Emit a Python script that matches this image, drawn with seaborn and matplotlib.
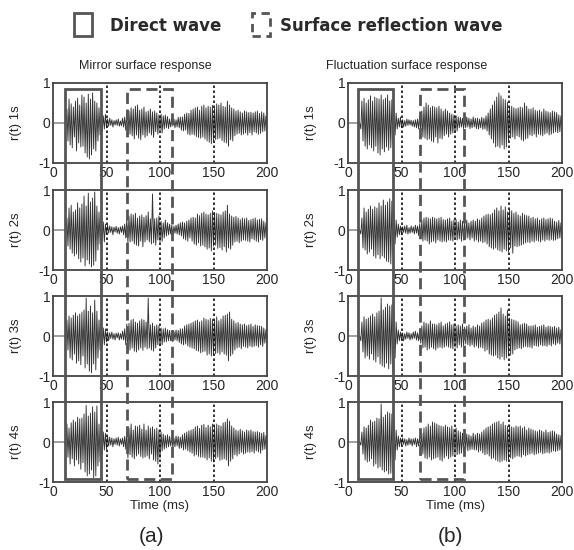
import numpy as np
import pandas as pd
import seaborn as sns
import matplotlib.pyplot as plt
from matplotlib.patches import Rectangle

# --- Data: received signal r(t), values in hundredths, one sample per ms (0..200 ms) ---
time_ms = list(range(0, 201))

mirror_1s = [
    0, 0, 0, 0, 0, 0, 0, 0, 0, 0,
    0, 0, -8, 35, -45, 60, -55, 48, -62, 40,
    -35, 55, -70, 62, -50, 45, -60, 70, -58, 65,
    -75, 50, -85, 72, -90, 60, -80, 75, -65, 55,
    -70, 50, -45, 38, -30, 25, -20, 18, -15, 22,
    -12, 10, -8, 12, -6, 8, -10, 6, -5, 8,
    -6, 10, -8, 5, -7, 12, -10, 15, -18, 25,
    -35, 30, -28, 38, -32, 35, -40, 42, -30, 45,
    -38, 32, -42, 35, -30, 40, -36, 28, -32, 30,
    -25, 35, -30, 28, -36, 30, -22, 25, -28, 20,
    -18, 22, -25, 18, -15, 20, -12, 16, -14, 10,
    -10, 12, -8, 10, -12, 8, -10, 14, -12, 15,
    -18, 15, -20, 22, -18, 25, -28, 24, -30, 32,
    -28, 35, -30, 38, -34, 40, -36, 32, -38, 42,
    -35, 45, -40, 38, -45, 42, -48, 40, -52, 44,
    -46, 38, -42, 48, -40, 45, -38, 50, -44, 42,
    -48, 40, -50, 55, -58, 45, -42, 38, -45, 35,
    -32, 30, -28, 32, -26, 28, -30, 25, -28, 30,
    -25, 28, -30, 26, -24, 27, -30, 25, -22, 28,
    -25, 30, -28, 24, -26, 28, -22, 25, -20, 18,
    -15,
]

mirror_2s = [
    0, 0, 0, 0, 0, 0, 0, 0, 0, 0,
    0, 0, -5, 30, -40, 55, -48, 62, -58, 45,
    -65, 50, -60, 68, -72, 55, -80, 65, -70, 85,
    -90, 60, -75, 92, -85, 70, -92, 80, -88, 95,
    -78, 60, -50, 45, -35, 30, -25, 20, -30, 15,
    -10, 12, -8, 10, -6, 8, -12, 7, -5, 9,
    -8, 6, -10, 8, -6, 10, -12, 15, -20, 28,
    -32, 35, -30, 40, -28, 38, -35, 42, -38, 30,
    -40, 35, -28, 38, -42, 32, -30, 36, -25, 45,
    -30, 28, -35, 90, -32, 28, -38, 30, -25, 35,
    -30, 22, -28, 18, -20, 25, -15, 18, -12, 15,
    -10, 12, -15, 10, -8, 12, -10, 15, -12, 18,
    -15, 20, -22, 18, -25, 22, -28, 25, -20, 30,
    -28, 32, -35, 30, -38, 40, -32, 36, -40, 42,
    -38, 45, -42, 40, -48, 38, -45, 42, -52, 48,
    -40, 44, -38, 42, -46, 40, -44, 38, -50, 45,
    -42, 48, -55, 62, -45, 40, -48, 35, -38, 32,
    -30, 34, -28, 30, -32, 26, -28, 30, -25, 28,
    -26, 30, -28, 24, -30, 26, -22, 28, -25, 30,
    -28, 25, -30, 27, -24, 28, -26, 22, -20, 18,
    -15,
]

mirror_3s = [
    0, 0, 0, 0, 0, 0, 0, 0, 0, 0,
    0, 0, -10, 40, -35, 50, -55, 45, -60, 52,
    -45, 58, -68, 50, -62, 55, -72, 60, -50, 65,
    -80, 95, -70, 62, -88, 75, -92, 58, -70, 90,
    -85, 62, -55, 40, -35, 45, -28, 20, -22, 18,
    -15, 10, -12, 8, -6, 10, -8, 6, -10, 7,
    -5, 8, -10, 6, -8, 12, -10, 18, -22, 30,
    -38, 32, -35, 40, -30, 42, -38, 35, -40, 32,
    -35, 38, -30, 42, -36, 40, -28, 35, -32, 95,
    -30, 28, -35, 32, -38, 25, -30, 28, -22, 26,
    -25, 20, -22, 18, -15, 20, -14, 16, -12, 14,
    -12, 10, -14, 12, -10, 15, -12, 14, -16, 18,
    -20, 18, -22, 25, -20, 28, -25, 30, -28, 32,
    -30, 35, -32, 38, -36, 40, -38, 35, -42, 38,
    -40, 45, -38, 42, -48, 40, -45, 44, -50, 42,
    -46, 40, -44, 48, -42, 38, -46, 42, -40, 50,
    -45, 52, -48, 55, -62, 60, -50, 42, -45, 38,
    -35, 32, -30, 34, -28, 30, -32, 28, -26, 30,
    -28, 26, -30, 28, -25, 30, -28, 24, -26, 28,
    -24, 26, -28, 25, -22, 24, -26, 20, -18, 16,
    -14,
]

mirror_4s = [
    0, 0, 0, 0, 0, 0, 0, 0, 0, 0,
    0, 0, -12, 45, -38, 35, -55, 48, -42, 55,
    -60, 50, -45, 62, -55, 58, -68, 60, -52, 70,
    -75, 92, -85, 65, -80, 72, -70, 88, -90, 75,
    -85, 90, -60, 45, -50, 38, -30, 25, -20, 22,
    -18, 15, -10, 12, -8, 10, -12, 8, -6, 10,
    -8, 12, -10, 8, -6, 10, -12, 14, -18, 25,
    -40, 35, -32, 45, -38, 30, -42, 40, -35, 38,
    -30, 42, -36, 32, -40, 45, -38, 30, -35, 40,
    -42, 35, -30, 38, -45, 32, -48, 35, -55, 30,
    -40, 25, -22, 20, -18, 16, -15, 18, -12, 14,
    -10, 12, -14, 10, -12, 15, -10, 14, -16, 12,
    -15, 18, -20, 22, -18, 25, -22, 28, -25, 30,
    -28, 32, -35, 38, -32, 40, -36, 34, -38, 42,
    -38, 44, -40, 36, -45, 42, -40, 38, -48, 45,
    -50, 40, -42, 45, -38, 42, -46, 40, -44, 48,
    -42, 50, -45, 58, -60, 52, -48, 40, -42, 35,
    -32, 30, -35, 28, -30, 32, -26, 28, -30, 25,
    -28, 30, -25, 28, -26, 30, -24, 26, -28, 25,
    -22, 26, -25, 24, -28, 22, -20, 24, -18, 16,
    -15,
]

fluct_1s = [
    0, 0, 0, 0, 0, 0, 0, 0, 0, 0,
    0, 0, -15, 55, -45, 62, -58, 50, -65, 58,
    -55, 68, -62, 55, -70, 65, -58, 62, -75, 60,
    -80, 70, -65, 58, -72, 62, -60, 70, -68, 55,
    -62, 58, -50, 40, -30, 25, -15, 12, -10, 15,
    -12, 8, -10, 6, -8, 10, -6, 8, -5, 7,
    -8, 6, -10, 8, -12, 10, -15, 18, -22, 30,
    -35, 40, -38, 50, -42, 45, -40, 38, -45, 42,
    -48, 40, -35, 38, -50, 42, -38, 35, -40, 30,
    -32, 35, -28, 30, -35, 25, -28, 22, -25, 20,
    -22, 18, -20, 15, -12, 14, -10, 12, -14, 10,
    -12, 15, -10, 12, -14, 10, -12, 15, -10, 12,
    -14, 12, -15, 10, -12, 14, -16, 12, -15, 18,
    -20, 25, -30, 35, -40, 45, -50, 55, -60, 65,
    -58, 75, -62, 68, -55, 60, -65, 58, -60, 52,
    -45, 40, -38, 42, -35, 38, -40, 36, -32, 38,
    -35, 40, -42, 38, -45, 50, -40, 42, -38, 35,
    -30, 35, -32, 38, -28, 32, -35, 30, -28, 32,
    -30, 28, -32, 35, -28, 30, -25, 28, -30, 26,
    -28, 30, -25, 28, -22, 26, -24, 20, -22, 18,
    -15,
]

fluct_2s = [
    0, 0, 0, 0, 0, 0, 0, 0, 0, 0,
    0, 0, -10, 30, -45, 55, -50, 45, -60, 52,
    -55, 60, -48, 52, -65, 58, -70, 55, -62, 68,
    -72, 60, -65, 75, -70, 62, -78, 70, -80, 78,
    -85, 72, -60, 45, -35, 25, -18, 15, -12, 10,
    -12, 8, -6, 10, -8, 12, -10, 6, -8, 10,
    -6, 8, -10, 12, -8, 10, -14, 16, -20, 25,
    -28, 30, -25, 32, -28, 30, -35, 28, -30, 32,
    -28, 30, -32, 28, -25, 30, -28, 32, -30, 26,
    -28, 25, -30, 28, -25, 30, -26, 22, -28, 25,
    -22, 26, -25, 20, -22, 25, -28, 22, -25, 20,
    -22, 25, -20, 18, -25, 22, -20, 25, -28, 22,
    -25, 28, -30, 25, -28, 30, -32, 35, -30, 38,
    -35, 40, -42, 38, -45, 42, -48, 50, -45, 55,
    -50, 48, -52, 60, -55, 50, -48, 58, -52, 45,
    -55, 50, -45, 48, -58, 42, -40, 45, -42, 38,
    -40, 35, -38, 42, -35, 38, -32, 36, -30, 35,
    -32, 30, -28, 32, -30, 28, -26, 30, -28, 25,
    -30, 28, -25, 30, -28, 26, -24, 28, -26, 30,
    -24, 28, -26, 22, -25, 20, -22, 24, -20, 18,
    -15,
]

fluct_3s = [
    0, 0, 0, 0, 0, 0, 0, 0, 0, 0,
    0, 0, -12, 35, -40, 48, -55, 42, -50, 45,
    -58, 50, -45, 55, -60, 48, -65, 58, -52, 62,
    -70, 95, -75, 65, -78, 72, -68, 80, -82, 75,
    -70, 78, -90, 65, -55, 35, -20, 15, -12, 10,
    -10, 8, -12, 6, -8, 10, -6, 8, -10, 6,
    -8, 10, -6, 12, -10, 8, -12, 15, -18, 25,
    -30, 35, -28, 32, -35, 30, -32, 38, -28, 30,
    -32, 30, -35, 28, -30, 32, -28, 35, -30, 25,
    -28, 30, -25, 32, -28, 35, -30, 28, -32, 30,
    -28, 25, -30, 28, -22, 25, -28, 30, -25, 22,
    -20, 25, -22, 28, -25, 20, -22, 25, -28, 22,
    -25, 28, -30, 25, -28, 32, -30, 35, -38, 40,
    -35, 42, -45, 40, -48, 45, -50, 52, -48, 55,
    -55, 60, -58, 70, -52, 55, -60, 50, -55, 65,
    -50, 45, -48, 42, -45, 40, -35, 38, -32, 35,
    -30, 28, -32, 30, -28, 32, -26, 30, -28, 25,
    -28, 25, -30, 26, -24, 28, -25, 22, -26, 24,
    -22, 26, -25, 28, -24, 22, -26, 25, -22, 24,
    -25, 22, -20, 24, -22, 20, -18, 22, -20, 16,
    -12,
]

fluct_4s = [
    0, 0, 0, 0, 0, 0, 0, 0, 0, 0,
    0, 0, -8, 25, -30, 38, -45, 35, -50, 42,
    -48, 55, -42, 50, -60, 52, -55, 60, -65, 58,
    -62, 95, -70, 62, -75, 68, -72, 75, -80, 72,
    -78, 70, -75, 60, -45, 30, -20, 15, -12, 10,
    -8, 10, -6, 8, -10, 6, -8, 10, -6, 8,
    -10, 8, -6, 10, -12, 8, -10, 14, -18, 22,
    -30, 35, -40, 38, -42, 45, -38, 40, -45, 50,
    -42, 48, -40, 45, -38, 42, -45, 40, -48, 38,
    -40, 42, -35, 38, -42, 36, -38, 40, -35, 32,
    -30, 35, -32, 28, -30, 25, -28, 22, -25, 20,
    -18, 20, -22, 18, -20, 15, -18, 22, -20, 18,
    -20, 22, -25, 20, -22, 25, -28, 30, -32, 35,
    -30, 38, -35, 40, -42, 45, -40, 48, -45, 50,
    -48, 52, -50, 45, -48, 50, -45, 42, -48, 40,
    -45, 42, -40, 38, -42, 36, -38, 40, -35, 38,
    -36, 40, -38, 35, -32, 38, -35, 30, -32, 35,
    -30, 32, -28, 30, -32, 28, -30, 26, -28, 30,
    -26, 28, -30, 25, -28, 30, -26, 24, -28, 26,
    -25, 28, -22, 26, -24, 20, -22, 18, -20, 16,
    -14,
]

row_labels = ['r(t) 1s', 'r(t) 2s', 'r(t) 3s', 'r(t) 4s']
col_titles = ['Mirror surface response', 'Fluctuation surface response']
panel_tags = ['(a)', '(b)']
columns = [[mirror_1s, mirror_2s, mirror_3s, mirror_4s],
           [fluct_1s, fluct_2s, fluct_3s, fluct_4s]]
x_ticks = [0, 50, 100, 150, 200]
y_ticks = [-1, 0, 1]
guide_times = [50, 100, 150]

# box extents (t_start, t_end) per column
direct_box = [(11, 45), (9, 42)]
reflect_box = [(69, 111), (67, 108)]
box_top, box_bottom = 0.84, -0.92

sns.set_style('white')
plt.rcParams['font.family'] = ['Liberation Sans', 'DejaVu Sans']

fig = plt.figure(figsize=(5.74, 5.5), dpi=100)
W, H = 574, 550
gray = '#555555'

col_left = [53, 348]
col_width = 214
row_top = [83, 190, 296, 402]
row_h = 80

axes = [[None] * 4 for _ in range(2)]
for c in range(2):
    for r in range(4):
        ax = fig.add_axes([col_left[c] / W, 1 - (row_top[r] + row_h) / H,
                           col_width / W, row_h / H])
        df = pd.DataFrame({'t': time_ms, 'r': np.array(columns[c][r]) / 100.0})
        sns.lineplot(data=df, x='t', y='r', ax=ax, color='#333333', linewidth=0.65)
        for g in guide_times:
            ax.axvline(g, color='#111111', linestyle=(0, (1.5, 1.5)), linewidth=1.2)
        ax.set_xlim(0, 200)
        ax.set_ylim(-1, 1)
        ax.set_xticks(x_ticks)
        ax.set_xticklabels([str(v) for v in x_ticks], fontsize=10)
        ax.set_yticks(y_ticks)
        ax.set_yticklabels(['-1', '0', '1'], fontsize=10)
        ax.tick_params(length=0, pad=2)
        for s in ax.spines.values():
            s.set_color('#444444')
            s.set_linewidth(1.3)
        ax.set_ylabel(row_labels[r], fontsize=9.5)
        ax.yaxis.set_label_coords(-0.145, 0.5)
        if r == 3:
            ax.set_xlabel('Time (ms)', fontsize=9.5, labelpad=1)
        else:
            ax.set_xlabel('')
        axes[c][r] = ax

# boxes spanning the four rows
inv = fig.transFigure.inverted()
for c in range(2):
    top_ax, bot_ax = axes[c][0], axes[c][3]
    for (t0, t1), ls in [(direct_box[c], '-'), (reflect_box[c], (0, (4, 2)))]:
        x0, y1 = inv.transform(top_ax.transData.transform((t0, box_top)))
        x1, y0 = inv.transform(bot_ax.transData.transform((t1, box_bottom)))
        fig.patches.append(Rectangle((x0, y0), x1 - x0, y1 - y0, transform=fig.transFigure,
                                     fill=False, edgecolor=gray, linewidth=2, linestyle=ls,
                                     zorder=10))

# column titles and panel tags
fig.text(145 / W, 1 - 66 / H, col_titles[0], ha='center', va='center', fontsize=9)
fig.text(407 / W, 1 - 66 / H, col_titles[1], ha='center', va='center', fontsize=9)
fig.text(152 / W, 1 - 536 / H, panel_tags[0], ha='center', va='center', fontsize=15)
fig.text(450 / W, 1 - 536 / H, panel_tags[1], ha='center', va='center', fontsize=15)

# legend
fig.patches.append(Rectangle((74 / W, 1 - 36 / H), 18 / W, 23 / H, transform=fig.transFigure,
                             fill=False, edgecolor=gray, linewidth=2))
fig.patches.append(Rectangle((252 / W, 1 - 36 / H), 18 / W, 23 / H, transform=fig.transFigure,
                             fill=False, edgecolor=gray, linewidth=2, linestyle=(0, (3, 2))))
fig.text(110 / W, 1 - 26 / H, 'Direct wave', ha='left', va='center', fontsize=12,
         fontweight='bold', color='#2a2a2a', family=['DejaVu Sans'])
fig.text(280 / W, 1 - 26 / H, 'Surface reflection wave', ha='left', va='center', fontsize=12,
         fontweight='bold', color='#2a2a2a', family=['DejaVu Sans'])

fig.savefig('out.png', dpi=100)
